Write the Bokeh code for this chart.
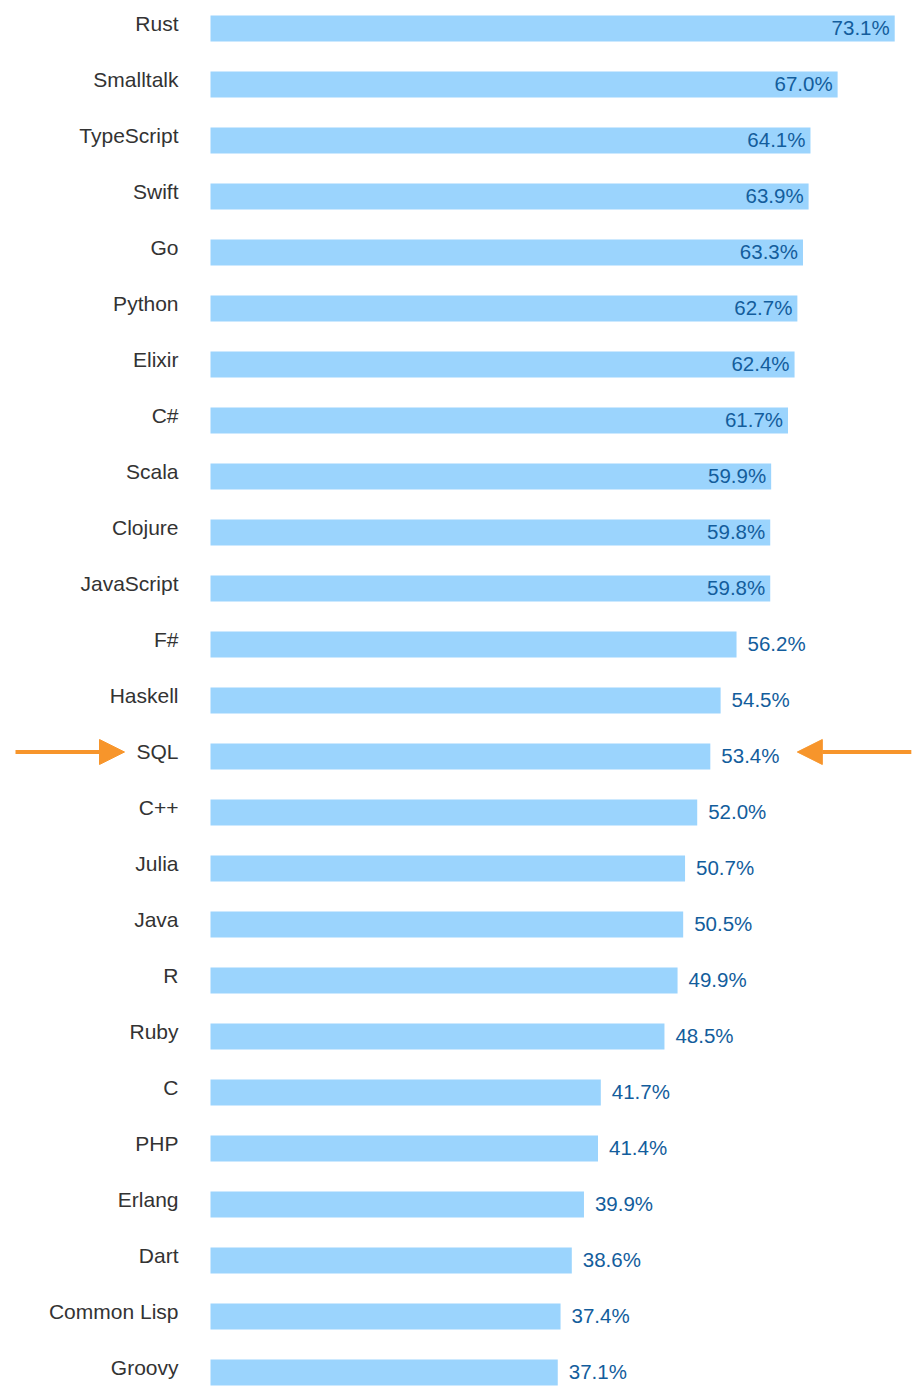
from bokeh.plotting import figure
from bokeh.models import Range1d, ColumnDataSource, Arrow, NormalHead
from bokeh.embed import file_html
from bokeh.resources import INLINE
from bokeh.core.properties import value

languages = ["Rust", "Smalltalk", "TypeScript", "Swift", "Go", "Python", "Elixir",
             "C#", "Scala", "Clojure", "JavaScript", "F#", "Haskell", "SQL", "C++",
             "Julia", "Java", "R", "Ruby", "C", "PHP", "Erlang", "Dart",
             "Common Lisp", "Groovy"]
loved = [73.1, 67.0, 64.1, 63.9, 63.3, 62.7, 62.4, 61.7, 59.9, 59.8, 59.8, 56.2,
         54.5, 53.4, 52.0, 50.7, 50.5, 49.9, 48.5, 41.7, 41.4, 39.9, 38.6, 37.4, 37.1]
highlight = "SQL"
inside_threshold = 59.0

# layout (pixels)
W, H = 912, 1390
ZERO_PX = 210          # x pixel of value 0 inside the figure
PX_PER_UNIT = 9.36     # pixels per percentage point
ROW_PX = 56            # pixels per row
TOP_PX = 28            # centre of first row from figure top
BAR_PX = 26

BAR_COLOR = "#9bd4fd"
VAL_COLOR = "#135d9c"
LAB_COLOR = "#333333"
ARROW_COLOR = "#f7952b"
FONT = "Liberation Sans"

x_start = -ZERO_PX / PX_PER_UNIT
x_end = (W - ZERO_PX) / PX_PER_UNIT
y_top = -TOP_PX / ROW_PX
y_bottom = (H - TOP_PX) / ROW_PX

p = figure(width=W, height=H, output_backend="svg", toolbar_location=None,
           x_range=Range1d(x_start, x_end), y_range=Range1d(y_bottom, y_top),
           min_border=0, outline_line_color=None)
p.xaxis.visible = False
p.yaxis.visible = False
p.xgrid.visible = False
p.ygrid.visible = False
p.background_fill_color = "white"

idx = list(range(len(languages)))
src = ColumnDataSource(dict(y=idx, v=loved, lang=languages))

p.hbar(y="y", left=0, right="v", height=BAR_PX / ROW_PX, source=src,
       fill_color=BAR_COLOR, line_color=None)

p.text(x=0, y="y", text="lang", source=src, x_offset=-32, y_offset=-5,
       text_align="right", text_baseline="middle", text_color=LAB_COLOR,
       text_font=value(FONT), text_font_size="21px")

ins = [i for i, v in enumerate(loved) if v >= inside_threshold]
out = [i for i, v in enumerate(loved) if v < inside_threshold]
src_in = ColumnDataSource(dict(y=ins, v=[loved[i] for i in ins],
                               txt=[f"{loved[i]:.1f}%" for i in ins]))
src_out = ColumnDataSource(dict(y=out, v=[loved[i] for i in out],
                                txt=[f"{loved[i]:.1f}%" for i in out]))
p.text(x="v", y="y", text="txt", source=src_in, x_offset=-5, y_offset=-1,
       text_align="right", text_baseline="middle", text_color=VAL_COLOR,
       text_font=value(FONT), text_font_size="20.5px")
p.text(x="v", y="y", text="txt", source=src_out, x_offset=11, y_offset=-1,
       text_align="left", text_baseline="middle", text_color=VAL_COLOR,
       text_font=value(FONT), text_font_size="20.5px")

k = languages.index(highlight)
hv = loved[k]
ay = k - 4.5 / ROW_PX
for xs, xe in [(-195 / PX_PER_UNIT, -86 / PX_PER_UNIT),
               (hv + 201 / PX_PER_UNIT, hv + 87 / PX_PER_UNIT)]:
    p.add_layout(Arrow(x_start=xs, y_start=ay, x_end=xe, y_end=ay,
                       line_color=ARROW_COLOR, line_width=4,
                       end=NormalHead(size=25, fill_color=ARROW_COLOR,
                                      line_color=ARROW_COLOR, line_width=1)))

open("out.html", "w").write(file_html(p, INLINE))
